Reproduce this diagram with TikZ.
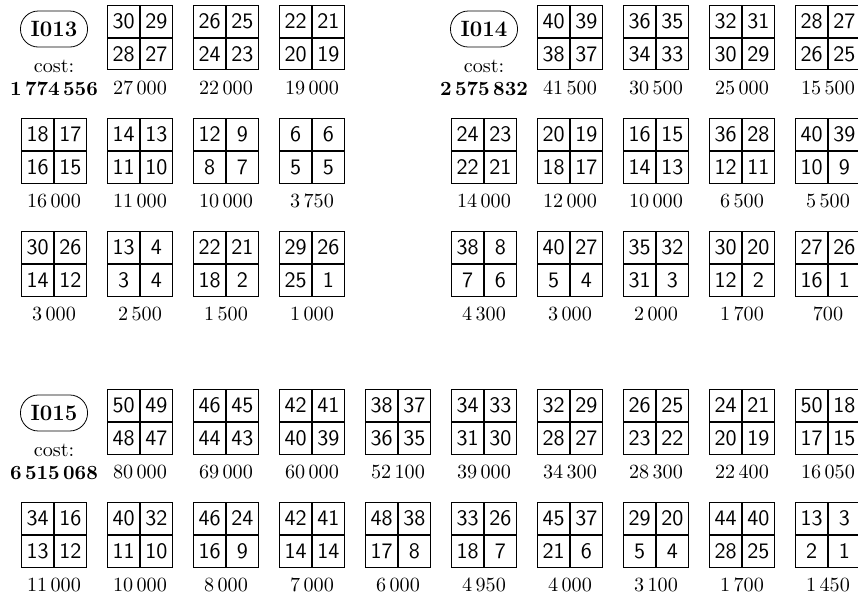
\documentclass[tikz,border=0pt]{standalone}
\usetikzlibrary{positioning}
\tikzset{
  % One cell of a 2x2 block
  cell/.style={rectangle,draw,inner sep=0pt,
    minimum width=0.558cm,minimum height=0.554cm,
    font=\fontsize{10.95}{13}\selectfont\sffamily},
  % Cost printed under a block
  val/.style={inner sep=0pt,font=\normalsize},
  % Instance tag (rounded)
  tag/.style={rectangle,draw,rounded corners=0.31cm,
    minimum width=1.17cm,minimum height=0.628cm,inner sep=2pt,
    font=\fontsize{11}{13}\selectfont\bfseries},
}
% 2x2 block: name, column, centre y, four entries, cost
\newcommand{\qbox}[8]{%
  \coordinate (#1) at ({0.942+1.5*#2},#3);
  \node[cell,anchor=south east] (#1-a) at (#1) {#4};
  \node[cell,anchor=south west] (#1-b) at (#1) {#5};
  \node[cell,anchor=north east] (#1-c) at (#1) {#6};
  \node[cell,anchor=north west] (#1-d) at (#1) {#7};
  \node[val,below=5pt of #1-c.south east] (#1-v) {#8};
}
\begin{document}
\begin{tikzpicture}
  \useasboundingbox (0,0) rectangle (14.965,-10.343);

  % I013
  \node[tag] (t13) at (0.942,-0.506) {I013};
  \node[val,below=0.22cm of t13] (c13) {cost:};
  \node[val,below=4pt of c13,font=\bfseries] (n13) {1\,774\,556};
  \foreach \i/\a/\b/\c/\d/\v in {1/30/29/28/27/{27\,000},
      2/26/25/24/23/{22\,000},3/22/21/20/19/{19\,000}}
    \qbox{a1-\i}{\i}{-0.658}{\a}{\b}{\c}{\d}{\v};
  \foreach \i/\a/\b/\c/\d/\v in {0/18/17/16/15/{16\,000},
      1/14/13/11/10/{11\,000},2/12/9/8/7/{10\,000},3/6/6/5/5/{3\,750}}
    \qbox{a2-\i}{\i}{-2.629}{\a}{\b}{\c}{\d}{\v};
  \foreach \i/\a/\b/\c/\d/\v in {0/30/26/14/12/{3\,000},
      1/13/4/3/4/{2\,500},2/22/21/18/2/{1\,500},3/29/26/25/1/{1\,000}}
    \qbox{a3-\i}{\i}{-4.600}{\a}{\b}{\c}{\d}{\v};

  % I014
  \node[tag] (t14) at (8.442,-0.506) {I014};
  \node[val,below=0.22cm of t14] (c14) {cost:};
  \node[val,below=4pt of c14,font=\bfseries] (n14) {2\,575\,832};
  \foreach \i/\a/\b/\c/\d/\v in {6/40/39/38/37/{41\,500},
      7/36/35/34/33/{30\,500},8/32/31/30/29/{25\,000},9/28/27/26/25/{15\,500}}
    \qbox{b1-\i}{\i}{-0.658}{\a}{\b}{\c}{\d}{\v};
  \foreach \i/\a/\b/\c/\d/\v in {5/24/23/22/21/{14\,000},
      6/20/19/18/17/{12\,000},7/16/15/14/13/{10\,000},
      8/36/28/12/11/{6\,500},9/40/39/10/9/{5\,500}}
    \qbox{b2-\i}{\i}{-2.629}{\a}{\b}{\c}{\d}{\v};
  \foreach \i/\a/\b/\c/\d/\v in {5/38/8/7/6/{4\,300},
      6/40/27/5/4/{3\,000},7/35/32/31/3/{2\,000},
      8/30/20/12/2/{1\,700},9/27/26/16/1/{700}}
    \qbox{b3-\i}{\i}{-4.600}{\a}{\b}{\c}{\d}{\v};

  % I015
  \node[tag] (t15) at (0.942,-7.203) {I015};
  \node[val,below=0.22cm of t15] (c15) {cost:};
  \node[val,below=4pt of c15,font=\bfseries] (n15) {6\,515\,068};
  \foreach \i/\a/\b/\c/\d/\v in {1/50/49/48/47/{80\,000},
      2/46/45/44/43/{69\,000},3/42/41/40/39/{60\,000},
      4/38/37/36/35/{52\,100},5/34/33/31/30/{39\,000},
      6/32/29/28/27/{34\,300},7/26/25/23/22/{28\,300},
      8/24/21/20/19/{22\,400},9/50/18/17/15/{16\,050}}
    \qbox{c1-\i}{\i}{-7.356}{\a}{\b}{\c}{\d}{\v};
  \foreach \i/\a/\b/\c/\d/\v in {0/34/16/13/12/{11\,000},
      1/40/32/11/10/{10\,000},2/46/24/16/9/{8\,000},
      3/42/41/14/14/{7\,000},4/48/38/17/8/{6\,000},
      5/33/26/18/7/{4\,950},6/45/37/21/6/{4\,000},
      7/29/20/5/4/{3\,100},8/44/40/28/25/{1\,700},9/13/3/2/1/{1\,450}}
    \qbox{c2-\i}{\i}{-9.327}{\a}{\b}{\c}{\d}{\v};
\end{tikzpicture}
\end{document}
